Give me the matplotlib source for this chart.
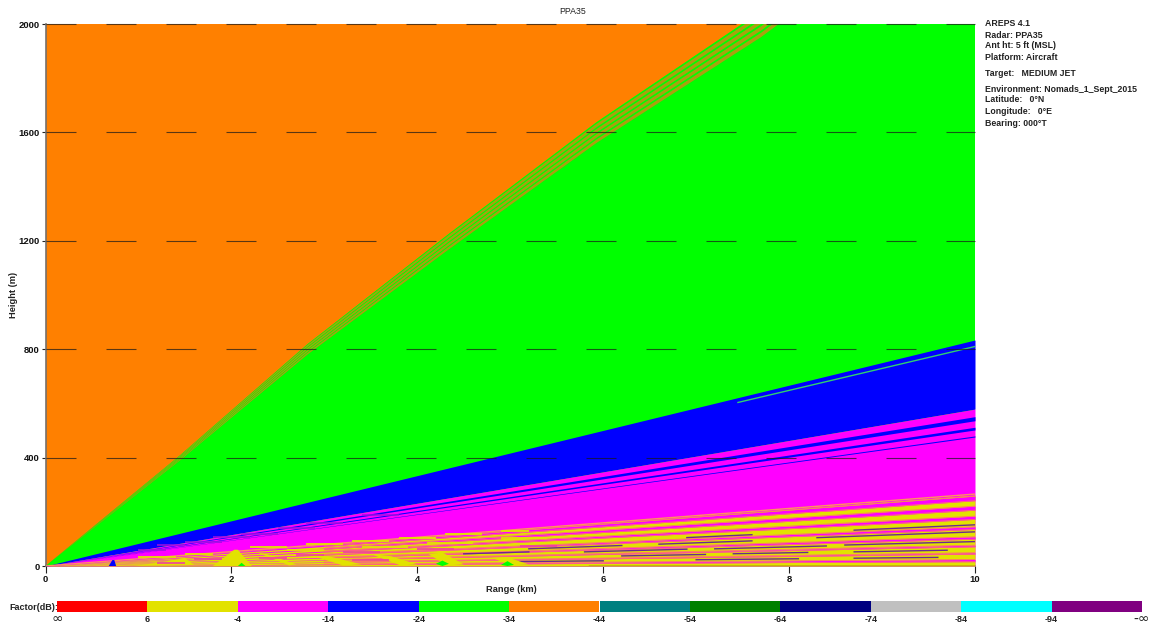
import matplotlib
matplotlib.use("Agg")
import matplotlib.pyplot as plt

plt.rcParams['font.family'] = ['Liberation Sans', 'DejaVu Sans']

# ---- data ----
scale_labels = ['∞', '6', '-4', '-14', '-24', '-34', '-44', '-54', '-64', '-74', '-84', '-94', '-∞']
scale_colors = ['#ff0000', '#e2e200', '#ff00ff', '#0000ff', '#00ff00', '#ff8000',
                '#008080', '#008000', '#000080', '#c0c0c0', '#00ffff', '#800080']
info_lines = ['AREPS 4.1', 'Radar: PPA35', 'Ant ht: 5 ft (MSL)', 'Platform: Aircraft',
              'Target:   MEDIUM JET', 'Environment: Nomads_1_Sept_2015',
              'Latitude:   0°N', 'Longitude:   0°E', 'Bearing: 000°T']
info_rows = [24, 35, 46, 57, 73, 89, 100, 111, 123]

# orange / green boundary (range km, height m)
edge_range = [0, 1.45, 2.82, 4.35, 5.93, 7.70, 10]
edge_height = [0, 400, 800, 1200, 1600, 2000, 2600]
# olive stripes along that boundary, as scale factors (low, high) of the height
edge_stripes = [(0.976, 0.984), (0.988, 0.996), (1.000, 1.008), (1.012, 1.020)]
edge_green_limit = 1.024

# wedges from the origin: height (m) reached at 10 km
green_top = 834
blue_top = 579
blue_stripes = [(536, 551), (502, 512), (476, 480)]
magenta_top = 269
yellow_top = 262
magenta_stripes = [(241, 258), (206, 221), (172, 184), (135, 145),
                   (99, 108), (71, 77), (44, 49), (16, 24)]
# purple flecks: start km, end km, height at 10 km
purple_flecks = [(5.2, 6.2, 122), (6.6, 7.6, 122), (8.3, 10, 126),
                 (5.8, 6.9, 90), (7.2, 8.4, 88), (8.6, 10, 90),
                 (6.2, 7.1, 60), (7.4, 8.2, 61), (8.7, 9.7, 60),
                 (5.0, 6.0, 32), (7.0, 8.1, 33), (8.7, 9.6, 33),
                 (4.5, 5.2, 100), (6.9, 7.6, 152), (8.7, 10, 152)]
# interference fans as outlines: range km, height m, colour index
fan_range = [[0.68, 0.72, 0.74, 0.76], [0.95, 1.25, 1.5, 1.6], [1.8, 2.03, 2.07, 2.22],
             [2.28, 2.38, 2.7, 2.62], [2.85, 3.05, 3.4, 3.2], [3.5, 3.72, 4.0, 3.82],
             [4.12, 4.27, 4.5, 4.32], [4.8, 4.97, 5.2, 5.02],
             [2.07, 2.11, 2.15, 2.11], [4.2, 4.27, 4.34, 4.27], [4.9, 4.97, 5.04, 4.97]]
fan_height = [[0, 22, 22, 0], [0, 14, 30, 4], [0, 60, 60, 0],
              [50, 44, 6, 2], [40, 36, 6, 2], [44, 36, 6, 2],
              [44, 50, 6, 2], [30, 32, 6, 2],
              [0, 12, 0, 0], [8, 20, 8, 0], [4, 18, 4, 0]]
fan_colors = [3, 1, 1, 1, 1, 1, 1, 1, 4, 4, 4]
# broken yellow and magenta dashes at the top of the striped zone: km, km, height m
mottle_yellow = [(2.2, 2.6, 70), (2.8, 3.2, 82), (3.3, 3.7, 92), (3.8, 4.2, 104),
                 (4.3, 4.7, 118), (4.9, 5.2, 130), (2.6, 3.0, 58), (3.4, 3.9, 70),
                 (4.1, 4.6, 84), (1.5, 1.8, 46), (1.0, 1.4, 32), (4.9, 5.4, 104)]
mottle_magenta = [(2.7, 3.0, 40), (3.2, 3.6, 50), (4.0, 4.4, 62), (1.2, 1.5, 12),
                  (1.6, 1.9, 26), (2.3, 2.6, 28), (5.1, 5.5, 72), (3.3, 3.7, 22)]
mottle_blue = [(1.0, 1.3, 58), (1.5, 1.9, 88), (2.1, 2.5, 118), (2.8, 3.2, 160),
               (3.4, 3.8, 190), (1.2, 1.5, 76), (1.8, 2.2, 106), (2.5, 2.9, 140)]
grid_heights = [400, 800, 1200, 1600, 2000]
x_ticks = [0, 2, 4, 6, 8, 10]
y_ticks = [0, 400, 800, 1200, 1600, 2000]
sliver = (7.45, 10, 810)

# ---- figure ----
W, H = 1151, 625
fig = plt.figure(figsize=(W / 100, H / 100), dpi=100, facecolor='white')


def box(x0, y0, x1, y1):
    return [x0 / W, 1 - y1 / H, (x1 - x0) / W, (y1 - y0) / H]


ax = fig.add_axes(box(45.5, 24, 975, 566))
ax.set_xlim(0, 10)
ax.set_ylim(0, 2000)
X = [0, 10]


def wedge(lo, hi, color, z=1):
    ax.fill_between(X, [0, lo], [0, hi], color=color, lw=0, zorder=z)


orange, green, blue, magenta, yellow = (scale_colors[5], scale_colors[4], scale_colors[3],
                                        scale_colors[2], scale_colors[1])
ax.set_facecolor(orange)
ax.fill_between(edge_range, 0, [h * edge_green_limit for h in edge_height],
                color=green, lw=0, zorder=1)
for f0, f1 in edge_stripes:
    ax.fill_between(edge_range, [h * f0 for h in edge_height], [h * f1 for h in edge_height],
                    color='#a8a010', lw=0, zorder=2)
wedge(blue_top, green_top, blue, 3)
ax.plot(sliver[:2], [sliver[0] * sliver[2] / 10, sliver[1] * sliver[2] / 10],
        color='#30d070', lw=1, zorder=4)
wedge(0, blue_top, magenta, 3)
for lo, hi in blue_stripes:
    wedge(lo, hi, blue, 4)
wedge(0, yellow_top, yellow, 4)
ax.plot(X, [0, (magenta_top + yellow_top) / 2], color='#ff9060', lw=1, zorder=5)
for lo, hi in magenta_stripes:
    wedge(lo, hi, magenta, 5)
    for e in (lo, hi):
        ax.plot([3, 10], [3 * e / 10, e], color='#ff7070', lw=.6, zorder=6)
for x0, x1, h in purple_flecks:
    ax.plot([x0, x1], [x0 * h / 10, x1 * h / 10], color='#6a2a90', lw=1, zorder=7)
for x0, x1, h in mottle_yellow:
    ax.plot([x0, x1], [h, h], color=yellow, lw=1.3, zorder=7, solid_capstyle='butt')
for x0, x1, h in mottle_magenta:
    ax.plot([x0, x1], [h, h], color='#f040a0', lw=1.2, zorder=8.5, solid_capstyle='butt')
for x0, x1, h in mottle_blue:
    ax.plot([x0, x1], [h, h], color='#a010e0', lw=1.1, zorder=7, solid_capstyle='butt')
for rr, hh, i in zip(fan_range, fan_height, fan_colors):
    ax.fill(rr, hh, color=scale_colors[i], lw=0, zorder=8)

for h in grid_heights:
    ax.plot(X, [h, h], color='#1a1a1a', alpha=.72, lw=.8, dashes=(27, 27), zorder=9, clip_on=False)

ax.plot([5.85, 10], [1, 1], color='#5a1020', lw=1, zorder=9)

for s in ('top', 'right'):
    ax.spines[s].set_visible(False)
for s in ('left', 'bottom'):
    ax.spines[s].set_color('#77706a')
    ax.spines[s].set_linewidth(1.2)
ax.set_xticks(x_ticks)
ax.set_yticks(y_ticks)
ax.tick_params(axis='x', length=5, width=.8, color='#222222', pad=1.5, labelsize=6.8)
ax.tick_params(axis='y', length=3, width=.8, color='#222222', pad=1, labelsize=6.8)
for t in ax.get_xticklabels() + ax.get_yticklabels():
    t.set_fontweight('bold')
    t.set_color('#111111')


def px_text(x, y, s, **kw):
    kw.setdefault('fontsize', 6.5)
    kw.setdefault('color', '#222222')
    kw.setdefault('va', 'center')
    fig.text(x / W, 1 - y / H, s, **kw)


px_text(573, 11, 'PPA35', ha='center', fontsize=6.3)
px_text(511, 590, 'Range (km)', ha='center', fontweight='bold', fontsize=6.7)
px_text(14, 295, 'Height (m)', ha='center', rotation=90, fontweight='bold', fontsize=6.7)
px_text(9, 607, 'Factor(dB):', ha='left', fontweight='bold', fontsize=6.5)
for s, row in zip(info_lines, info_rows):
    px_text(985, row, s, ha='left', fontweight='bold', fontsize=6.3)

bar = fig.add_axes(box(57, 601, 1142, 612))
bar.set_xlim(0, len(scale_colors))
bar.set_ylim(0, 1)
bar.axis('off')
bar.bar(range(len(scale_colors)), [1] * len(scale_colors), width=1, align='edge',
        color=scale_colors, lw=0)
n = len(scale_colors)
for i, s in enumerate(scale_labels):
    xp = 57 + (1142 - 57) * i / n
    if '∞' in s:
        px_text(xp, 619, s, ha='center', color='#222222', fontsize=10, family='DejaVu Sans')
    else:
        px_text(xp, 619, s, ha='center', color='#222222', fontsize=6.5, fontweight='bold')

fig.savefig('out.png', dpi=100)
